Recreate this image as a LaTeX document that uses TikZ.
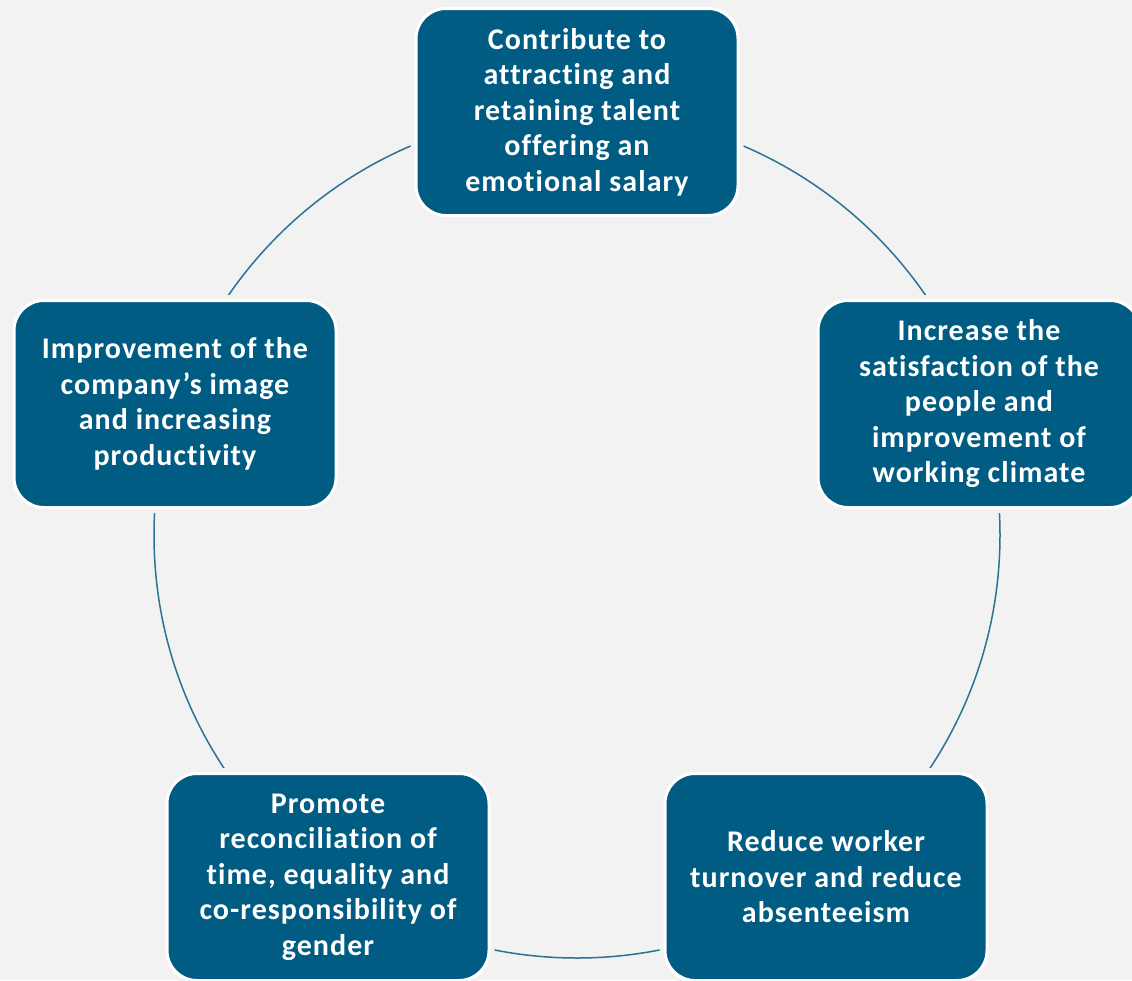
\documentclass[tikz,border=0pt]{standalone}
\usepackage{fontspec}
\setmainfont{Carlito}[Ligatures={NoCommon}, LetterSpace=3.5]
\definecolor{bg}{HTML}{F2F2F2}
\definecolor{boxfill}{HTML}{005C82}
\definecolor{ring}{HTML}{2B7394}
\tikzset{
  box/.style={rectangle, rounded corners=30pt, fill=boxfill, draw=white, line width=3pt,
    minimum width=322pt, minimum height=207pt, inner sep=4pt,
    text=white, font=\fontsize{30pt}{35.5pt}\selectfont\bfseries, align=center,
    preaction={draw=bg, line width=11pt}},
  ringline/.style={draw=ring, line width=1.5pt}
}
\begin{document}
\begin{tikzpicture}[x=1pt,y=-1pt]
\useasboundingbox (0,0) rectangle (1132,980);
\clip (0,0) rectangle (1132,980);
\fill[bg] (0,0) rectangle (1132,980);
\coordinate (c) at (577,535);
\draw[ringline] (c) circle[radius=423];
\node[box] (top) at (577,112) {Contribute to\\attracting and\\retaining talent\\offering an\\emotional salary};
\node[box] (right) at (979,404) {Increase the\\satisfaction of the\\people and\\improvement of\\working climate};
\node[box] (br) at (826,877) {Reduce worker\\turnover and reduce\\absenteeism};
\node[box] (bl) at (328,877) {Promote\\reconciliation of\\time, equality and\\co-responsibility of\\gender};
\node[box] (left) at (175,404) {Improvement of the\\company’s image\\and increasing\\productivity};
\end{tikzpicture}
\end{document}
